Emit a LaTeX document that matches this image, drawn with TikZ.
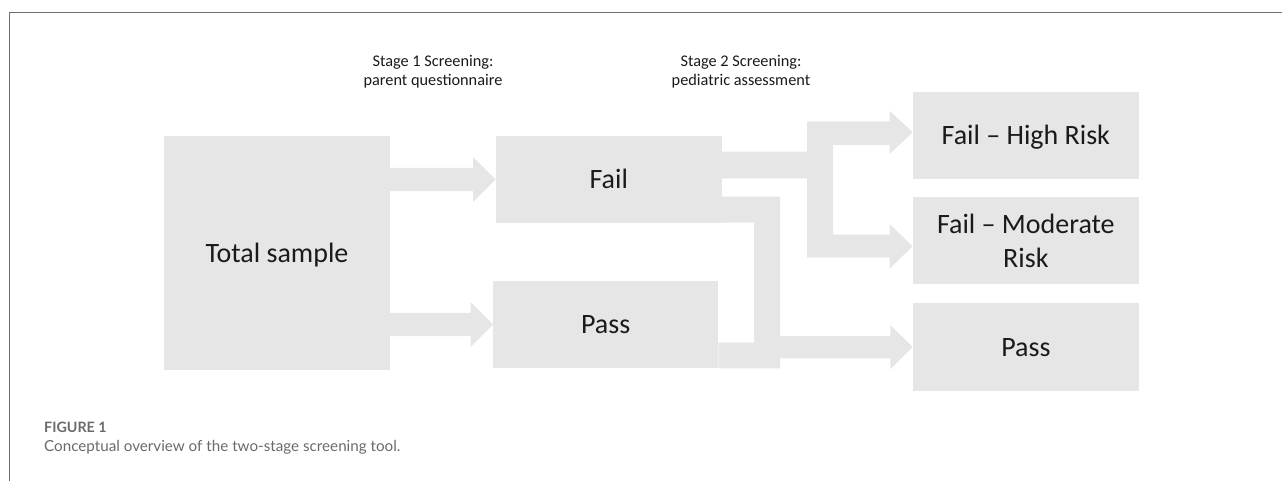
\documentclass[tikz,border=0pt]{standalone}
\usepackage{fontspec}
\setmainfont{Carlito}
\newfontfamily\capfont{Lato}
\usetikzlibrary{calc}

\definecolor{boxgray}{HTML}{E6E6E6}
\definecolor{ink}{HTML}{1A1A1A}
\definecolor{rulegray}{HTML}{6E6E6E}
\definecolor{capgray}{HTML}{6A6A6A}

% straight block arrow: #1 = tail point on the arrow's centre line, #2 = tip
\newcommand{\flowarrow}[2]{%
  \fill[flow] ($(#1)+(0,-11.6)$) -- ($(#2)+(-22.4,-11.6)$) -- ($(#2)+(-22.4,-22.4)$)
    -- (#2) -- ($(#2)+(-22.4,22.4)$) -- ($(#2)+(-22.4,11.6)$) -- ($(#1)+(0,11.6)$) -- cycle;}

\begin{document}
\begin{tikzpicture}[x=1pt,y=-1pt,
  box/.style={fill=boxgray, draw=none, inner sep=0pt, outer sep=0pt, text=ink,
              font=\fontsize{28}{33.5}\selectfont, align=center},
  oneline/.style={text height=18pt, text depth=0pt},
  stagelabel/.style={inner sep=0pt, text=ink, font=\fontsize{16.3}{19.5}\selectfont, align=center},
  flow/.style={fill=boxgray, draw=none}]
\useasboundingbox (0,0) rectangle (1282,481);

% frame rule
\draw[rulegray, line width=1pt] (9,481) -- (9,13) -- (1282,13);

% boxes
\node[box, oneline, minimum width=226pt, minimum height=234pt] (total) at (277,253) {Total sample};
\node[box, oneline, minimum width=226.5pt, minimum height=87pt] (fail1) at (608.75,179.5) {Fail};
\node[box, oneline, minimum width=225.3pt, minimum height=87.6pt] (pass1) at (605.65,324.5) {Pass};
\node[box, oneline, minimum width=226.3pt, minimum height=87pt] (high) at (1025.85,135.8) {Fail -- High Risk};
\node[box, minimum width=226.3pt, minimum height=87pt] (mod) at (1025.85,240.8) {Fail -- Moderate\\Risk};
\node[box, oneline, minimum width=226.3pt, minimum height=87.4pt] (pass2) at (1025.85,347) {Pass};

% stage headings (base anchor sits on the second line)
\node[stagelabel, anchor=base] (stage1) at (433,86) {Stage 1 Screening:\\parent questionnaire};
\node[stagelabel, anchor=base] (stage2) at (741,86) {Stage 2 Screening:\\pediatric assessment};

% stage 1 arrows
\flowarrow{total.east |- fail1.west}{fail1.west}
\flowarrow{total.east |- pass1.west}{pass1.west}

% stage 2: Fail splits into high and moderate risk
\fill[flow] (fail1.east |- 0,151.7) -- (807,151.7) -- (807,121.3) -- (889.6,121.3) -- (889.6,110.7)
  -- (high.west |- 0,132.3) -- (889.6,154) -- (889.6,145) -- (833,145) -- (833,234.5)
  -- (889.6,234.5) -- (889.6,224) -- (mod.west |- 0,246.3) -- (889.6,268.7) -- (889.6,257.3)
  -- (807,257.3) -- (807,178.3) -- (fail1.east |- 0,178.3) -- cycle;

% stage 2: the remaining fails and the passes join into Pass
\fill[flow] (fail1.east |- 0,196.7) -- (780,196.7) -- (780,336) -- (890.3,336) -- (890.3,325)
  -- (pass2.west) -- (890.3,369.3) -- (890.3,358.3) -- (780,358.3) -- (780,368.3)
  -- (pass1.east |- 0,368.3) -- (pass1.east |- 0,342.7) -- (754,342.7) -- (754,222.7)
  -- (fail1.east |- 0,222.7) -- cycle;

% caption
\node[anchor=base west, inner sep=0pt, text=capgray, font=\capfont\bfseries\fontsize{14.3}{17}\selectfont] (figno) at (44,432.3) {FIGURE 1};
\node[anchor=base west, inner sep=0pt, text=capgray, font=\capfont\fontsize{15.2}{18}\selectfont] (caption) at (44,451.7) {Conceptual overview of the two-stage screening tool.};
\end{tikzpicture}
\end{document}
